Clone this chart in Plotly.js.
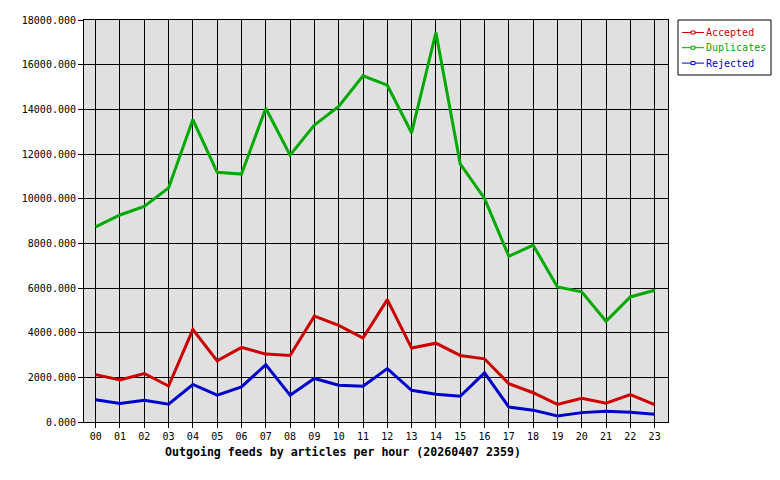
<!DOCTYPE html>
<html><head><meta charset="utf-8">
<script src="https://cdn.plot.ly/plotly-3.0.1.min.js"></script>
<style>html,body{margin:0;padding:0;background:#fff;}#chart{width:780px;height:480px;}</style>
</head><body><div id="chart"></div>
<script>
const hours = ["00","01","02","03","04","05","06","07","08","09","10","11","12","13","14","15","16","17","18","19","20","21","22","23"];
const accepted = [2120,1880,2170,1610,4140,2740,3340,3040,2980,4740,4330,3760,5480,3310,3530,2980,2830,1720,1310,790,1060,840,1230,780];
const duplicates = [8740,9270,9650,10480,13540,11180,11100,14050,11950,13300,14130,15500,15080,12950,17440,11560,10010,7420,7920,6050,5830,4510,5600,5900];
const rejected = [1000,830,970,800,1680,1200,1570,2570,1200,1950,1650,1600,2390,1420,1240,1150,2200,670,530,270,420,480,440,350];
const seriesNames = ["Accepted","Duplicates","Rejected"];
const seriesColors = ["#cc0000","#00aa00","#0000cc"];
const titleText = "Outgoing feeds by articles per hour (20260407 2359)";

const fam = "DejaVu Sans Mono, Liberation Mono, monospace";
const font = {family: fam, size: 10, color: "#000"};
const values = [accepted, duplicates, rejected];
const traces = values.map((v, i) => ({x: hours, y: v, type: "scatter", mode: "lines", name: seriesNames[i],
  line: {color: seriesColors[i], width: 3}, showlegend: false, hoverinfo: "skip"}));

// legend drawn in paper coordinates (plot area: x 84..668 px, y 20..422 px)
const L = 84, W = 584, B = 422, H = 402;
const px = p => (p - L) / W, py = p => (B - p) / H;
const shapes = [{type: "rect", xref: "paper", yref: "paper", x0: px(678), x1: px(771), y0: py(75), y1: py(20),
  line: {color: "#000", width: 1}, fillcolor: "#fff", layer: "above"}];
const annotations = [];
const rowY = [32.5, 47.7, 63.1];
seriesNames.forEach((n, i) => {
  shapes.push({type: "line", xref: "paper", yref: "paper", x0: px(682), x1: px(704), y0: py(rowY[i]), y1: py(rowY[i]),
    line: {color: seriesColors[i], width: 1}, layer: "above"});
  shapes.push({type: "rect", xref: "paper", yref: "paper", xsizemode: "pixel", ysizemode: "pixel",
    xanchor: px(693), yanchor: py(rowY[i]), x0: -2, x1: 2, y0: -1.5, y1: 1.5,
    line: {color: seriesColors[i], width: 1}, fillcolor: "#fff", layer: "above"});
  annotations.push({text: n, xref: "paper", yref: "paper", x: px(704), y: py(rowY[i]), xanchor: "left", yanchor: "middle",
    showarrow: false, font: {family: fam, size: 10, color: seriesColors[i]}});
});
annotations.push({text: "<b>" + titleText + "</b>", xref: "paper", yref: "paper", x: px(342.5), y: py(452),
  xanchor: "center", yanchor: "middle", showarrow: false, font: {family: fam, size: 11.6, color: "#000"}});

const layout = {
  width: 780, height: 480,
  margin: {l: 84, r: 112, t: 20, b: 58, pad: 0},
  paper_bgcolor: "#ffffff", plot_bgcolor: "#e0e0e0",
  font: font, showlegend: false,
  xaxis: {type: "category", range: [-0.48, 23.55], showgrid: true, gridcolor: "#000", gridwidth: 1,
    ticks: "outside", ticklen: 5, tickcolor: "#000", showline: true, linecolor: "#000", mirror: true,
    tickfont: font, zeroline: false, fixedrange: true},
  yaxis: {range: [0, 18000], dtick: 2000, tickformat: ".3f", showgrid: true, gridcolor: "#000", gridwidth: 1,
    ticks: "outside", ticklen: 5, tickcolor: "#000", showline: true, linecolor: "#000", mirror: true,
    tickfont: font, zeroline: false, fixedrange: true},
  shapes: shapes, annotations: annotations
};
Plotly.newPlot("chart", traces, layout, {staticPlot: true, displayModeBar: false});
</script></body></html>
